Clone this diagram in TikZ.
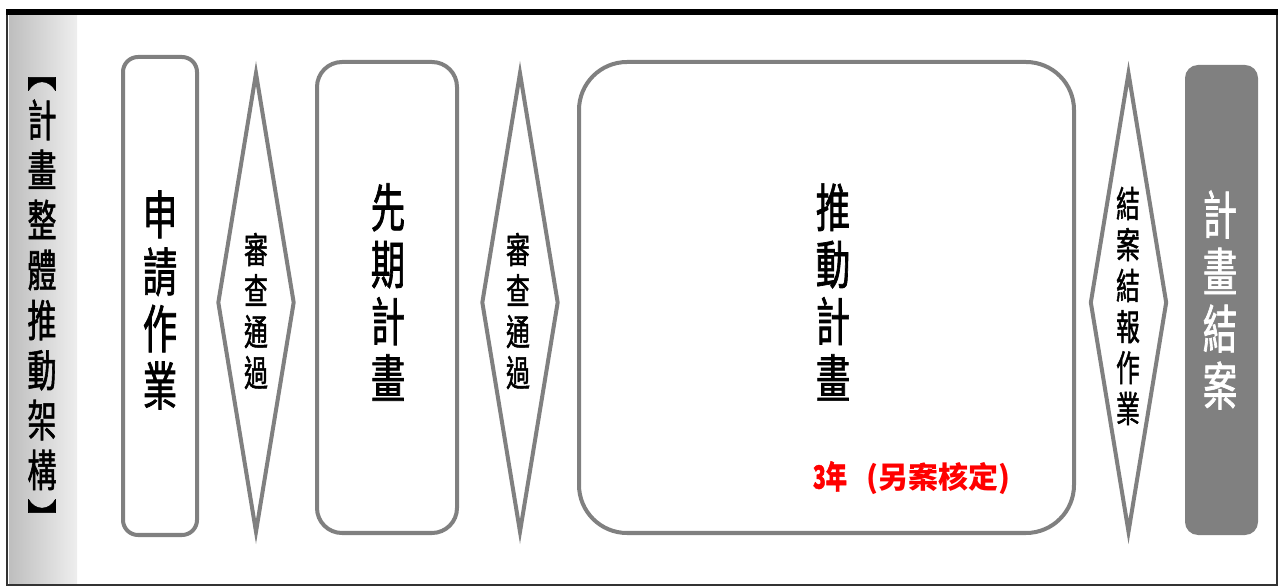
\documentclass[tikz,border=0pt]{standalone}
\usepackage{fontspec}
\usepackage{xcolor}
\newfontfamily\cjk[FakeStretch=0.66, FakeBold=1.3]{Noto Sans CJK TC}
\newfontfamily\cjkwide{Noto Sans CJK TC}
\usetikzlibrary{shapes.geometric}
\definecolor{edgegray}{RGB}{128,128,128}
\definecolor{bandleft}{RGB}{190,190,190}
\definecolor{bandright}{RGB}{238,238,238}
\definecolor{noteRed}{RGB}{255,0,0}

\begin{document}
\begin{tikzpicture}[x=0.5pt, y=-0.5pt,
      stagebox/.style={rectangle, draw=edgegray, line width=2pt, fill=white, inner sep=0pt},
      gate/.style={diamond, draw=edgegray, line width=2pt, fill=white, inner sep=0pt, aspect=0.16,
        minimum width=38.5pt, minimum height=230pt},
      bigtxt/.style={align=center, inner sep=0pt, font=\cjk\fontsize{26}{28.5}\selectfont},
      smalltxt/.style={align=center, inner sep=0pt, font=\cjk\fontsize{18}{20.5}\selectfont},
      sidetxt/.style={align=center, inner sep=0pt, font=\cjk\fontsize{22}{25}\selectfont}]
  \useasboundingbox (0,0) rectangle (1280,587);
  % frame and side band
  \shade[left color=bandleft, right color=bandright] (9,15) rectangle (77,584);
  \draw[line width=1pt, black!80] (7,12) -- (7,585) -- (1277,585) -- (1277,12);
  \draw[line width=3pt] (6,12) -- (1278,12);
  \node[sidetxt] (title) at (42,307) {︻\\計\\畫\\整\\體\\推\\動\\架\\構\\︼};
  % stages
  \node[stagebox, minimum width=37pt, minimum height=239pt, rounded corners=7.5pt] (apply) at (160,296) {};
  \node[gate] (check1) at (256,302.5) {};
  \node[stagebox, minimum width=70pt, minimum height=235.5pt, rounded corners=12.5pt] (pilot) at (387,297.5) {};
  \node[gate] (check2) at (520,302.5) {};
  \node[stagebox, minimum width=247.5pt, minimum height=235.5pt, rounded corners=24pt] (promote) at (826.5,297.5) {};
  \node[gate] (report) at (1128.5,302.5) {};
  \node[stagebox, draw=none, fill=edgegray, minimum width=36.5pt, minimum height=235pt, rounded corners=6.5pt] (close) at (1221.5,300) {};
  % labels
  \node[bigtxt] (applytxt) at (160,300) {申\\請\\作\\業};
  \node[smalltxt] (check1txt) at (256,311) {審\\查\\通\\過};
  \node[bigtxt] (pilottxt) at (388,292) {先\\期\\計\\畫};
  \node[smalltxt] (check2txt) at (518,311) {審\\查\\通\\過};
  \node[bigtxt] (promotetxt) at (833,292) {推\\動\\計\\畫};
  \node[inner sep=0pt, text=noteRed, font=\cjkwide\bfseries\fontsize{15}{18}\selectfont] (span) at (912,478)
    {{\cjk\fontsize{16}{18}\selectfont 3年}\hspace{10pt}(另案核定)};
  \node[smalltxt] (reporttxt) at (1128,306) {結\\案\\結\\報\\作\\業};
  \node[bigtxt, text=white] (closetxt) at (1220,300) {計\\畫\\結\\案};
\end{tikzpicture}
\end{document}
